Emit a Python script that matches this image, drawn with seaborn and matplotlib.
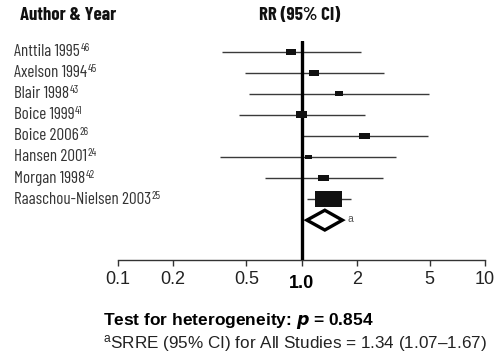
import numpy as np
import pandas as pd
import matplotlib
matplotlib.use("Agg")
import matplotlib.pyplot as plt
from matplotlib.path import Path
from matplotlib.markers import MarkerStyle
import seaborn as sns

# ---------------- data ----------------
studies = ["Anttila 1995", "Axelson 1994", "Blair 1998", "Boice 1999",
           "Boice 2006", "Hansen 2001", "Morgan 1998", "Raaschou-Nielsen 2003"]
refs = ["46", "45", "43", "41", "26", "24", "42", "25"]
rr = [0.88, 1.17, 1.60, 1.00, 2.20, 1.09, 1.32, 1.40]
ci_low = [0.37, 0.49, 0.52, 0.455, 1.02, 0.36, 0.63, 1.065]
ci_high = [2.10, 2.80, 4.96, 2.22, 4.90, 3.28, 2.79, 1.87]
weights = [6.7, 6.7, 4.6, 8.7, 8.1, 4.1, 8.9, 52.2]
summary = [1.34, 1.07, 1.67]   # SRRE, lower, upper
tick_values = [0.1, 0.2, 0.5, 1.0, 2, 5, 10]
tick_labels = ["0.1", "0.2", "0.5", "1.0", "2", "5", "10"]

# ---------------- style ----------------
sns.set_theme(style="white")
plt.rcParams["font.family"] = ["Liberation Sans", "DejaVu Sans"]
plt.rcParams["mathtext.fontset"] = "custom"
plt.rcParams["mathtext.rm"] = "Liberation Sans"
plt.rcParams["mathtext.it"] = "Liberation Sans:italic"
plt.rcParams["mathtext.bf"] = "Liberation Sans:bold"
COND = ["Barlow Condensed", "Asap Condensed", "DejaVu Sans"]

fig = plt.figure(figsize=(4.98, 3.56), dpi=100)
ax = fig.add_axes([118 / 498, 1 - 259.5 / 356, (485 - 118) / 498, (259.5 - 41) / 356])

n = len(studies)
df = pd.DataFrame({"study": studies, "rr": rr, "lo": ci_low, "hi": ci_high,
                   "w": weights, "row": np.arange(n)})

# confidence interval lines
ax.hlines(df["row"], df["lo"], df["hi"], color="#3a3a3a", lw=1.0, zorder=2)

# reference line at 1
ax.axvline(1.0, color="black", lw=2.4, zorder=3)

# study boxes (rectangle marker, area proportional to weight)
rect = Path([(-1, -0.62), (1, -0.62), (1, 0.62), (-1, 0.62), (-1, -0.62)],
            [Path.MOVETO, Path.LINETO, Path.LINETO, Path.LINETO, Path.CLOSEPOLY])
marker = MarkerStyle(rect)
width_pt = 3.74 * np.sqrt(df["w"].to_numpy()) * 0.72
sns.scatterplot(data=df, x="rr", y="row", marker=marker, s=width_pt ** 2,
                color="#111111", edgecolor="none", linewidth=0, ax=ax,
                legend=False, zorder=4)

# summary diamond
est, slo, shi = summary
yd = n
h = 0.47
ax.fill([slo, est, shi, est, slo], [yd, yd - h, yd, yd + h, yd],
        facecolor="white", edgecolor="black", lw=2.4, joinstyle="miter", zorder=5)
ax.text(shi * 1.06, yd - 0.05, "a", fontsize=7.5, color="#555555",
        va="center", ha="left")

ax.set_xscale("log")
ax.set_xlim(0.1, 10)
ax.set_ylim(n + 1.87, -0.51)
ax.set_yticks([])
ax.set_xticks(tick_values)
ax.set_xticklabels(tick_labels)
ax.xaxis.set_minor_locator(matplotlib.ticker.NullLocator())
for s in ["top", "right", "left"]:
    ax.spines[s].set_visible(False)
ax.spines["bottom"].set_color("#333333")
ax.spines["bottom"].set_linewidth(1.0)
ax.tick_params(axis="x", which="major", direction="out", length=4.5, width=1.0,
               color="#333333", labelsize=13, pad=4, bottom=True,
               labelcolor="#222222")
for t, lab in zip(ax.xaxis.get_major_ticks(), tick_labels):
    if lab == "1.0":
        t.set_pad(7)
        t.label1.set_fontweight("bold")
        t.label1.set_color("black")
ax.set_xlabel("")
ax.set_ylabel("")
ax.patch.set_alpha(0)

# row labels with superscript reference numbers
renderer = fig.canvas.get_renderer()
for i, (name, ref) in enumerate(zip(studies, refs)):
    y = ax.transData.transform((1, i))[1]
    t = fig.text(14 / 498, y / (fig.dpi * 3.56), name, family=COND,
                 fontsize=12.3, fontstyle="normal", color="#333333",
                 va="center", ha="left")
    bb = t.get_window_extent(renderer)
    fig.text((bb.x1 + 0.5) / (fig.dpi * 4.98), (y + 3.5) / (fig.dpi * 3.56), ref,
             family=COND, fontsize=8, fontstyle="normal", color="#333333",
             va="center", ha="left")

# headers
fig.text(20 / 498, 1 - 16 / 356, "Author & Year", family=COND,
         fontweight="bold", fontsize=13.5, color="#111111", va="center", ha="left")
fig.text(300 / 498, 1 - 16 / 356, "RR (95% CI)", family=COND,
         fontweight="bold", fontsize=13.5, color="#111111", va="center", ha="center")

# footer
fig.text(103 / 498, 1 - 321 / 356, r"Test for heterogeneity: $\boldsymbol{p}$ = 0.854",
         fontweight="bold", fontsize=12.5, color="black", va="center", ha="left")
fig.text(103 / 498, 1 - 344 / 356,
         "$^{\\mathrm{a}}$SRRE (95% CI) for All Studies = 1.34 (1.07\u20131.67)",
         fontsize=12.3, color="#222222", va="center", ha="left")

fig.savefig("out.png", dpi=100)
